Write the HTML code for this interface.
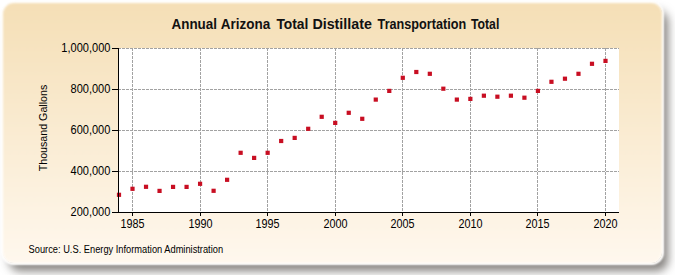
<!DOCTYPE html>
<html><head><meta charset="utf-8"><style>
html,body{margin:0;padding:0;background:#fff;width:675px;height:275px;overflow:hidden;position:relative}
.box{position:absolute;left:2.5px;top:2.5px;width:659.5px;height:260px;border-radius:11px;box-sizing:border-box}
.sh{box-shadow:6px 8px 10px rgba(50,45,40,0.6)}
.ring{box-shadow:0 0 2px 1.5px #fff}
.panel{background:linear-gradient(to bottom,#f5dfb6,#fff8ee);filter:blur(0.9px)}
svg{position:absolute;left:0;top:0}
text{font-family:"Liberation Sans",sans-serif;fill:#000}
.title{font-weight:bold;fill:#111}
</style></head><body>
<div class="box sh"></div><div class="box ring"></div><div class="box panel"></div>
<svg width="675" height="275" viewBox="0 0 675 275">
<rect x="118" y="48" width="501" height="164" fill="#fff"/>
<line x1="118" y1="48.5" x2="619" y2="48.5" stroke="#a2a2a2" stroke-dasharray="3,1"/>
<line x1="118" y1="89.5" x2="619" y2="89.5" stroke="#a2a2a2" stroke-dasharray="3,1"/>
<line x1="118" y1="130.5" x2="619" y2="130.5" stroke="#a2a2a2" stroke-dasharray="3,1"/>
<line x1="118" y1="171.5" x2="619" y2="171.5" stroke="#a2a2a2" stroke-dasharray="3,1"/>
<line x1="132.5" y1="48" x2="132.5" y2="212" stroke="#a2a2a2" stroke-dasharray="3,1"/>
<line x1="200.5" y1="48" x2="200.5" y2="212" stroke="#a2a2a2" stroke-dasharray="3,1"/>
<line x1="267.5" y1="48" x2="267.5" y2="212" stroke="#a2a2a2" stroke-dasharray="3,1"/>
<line x1="335.5" y1="48" x2="335.5" y2="212" stroke="#a2a2a2" stroke-dasharray="3,1"/>
<line x1="402.5" y1="48" x2="402.5" y2="212" stroke="#a2a2a2" stroke-dasharray="3,1"/>
<line x1="470.5" y1="48" x2="470.5" y2="212" stroke="#a2a2a2" stroke-dasharray="3,1"/>
<line x1="537.5" y1="48" x2="537.5" y2="212" stroke="#a2a2a2" stroke-dasharray="3,1"/>
<line x1="605.5" y1="48" x2="605.5" y2="212" stroke="#a2a2a2" stroke-dasharray="3,1"/>
<rect x="116.90" y="192.70" width="4.2" height="4.2" fill="#c80e22"/>
<rect x="130.41" y="186.70" width="4.2" height="4.2" fill="#c80e22"/>
<rect x="143.93" y="184.70" width="4.2" height="4.2" fill="#c80e22"/>
<rect x="157.44" y="188.80" width="4.2" height="4.2" fill="#c80e22"/>
<rect x="170.96" y="184.80" width="4.2" height="4.2" fill="#c80e22"/>
<rect x="184.47" y="184.80" width="4.2" height="4.2" fill="#c80e22"/>
<rect x="197.98" y="181.70" width="4.2" height="4.2" fill="#c80e22"/>
<rect x="211.50" y="188.70" width="4.2" height="4.2" fill="#c80e22"/>
<rect x="225.01" y="177.70" width="4.2" height="4.2" fill="#c80e22"/>
<rect x="238.53" y="150.70" width="4.2" height="4.2" fill="#c80e22"/>
<rect x="252.04" y="155.80" width="4.2" height="4.2" fill="#c80e22"/>
<rect x="265.55" y="150.70" width="4.2" height="4.2" fill="#c80e22"/>
<rect x="279.07" y="138.90" width="4.2" height="4.2" fill="#c80e22"/>
<rect x="292.58" y="135.80" width="4.2" height="4.2" fill="#c80e22"/>
<rect x="306.10" y="126.70" width="4.2" height="4.2" fill="#c80e22"/>
<rect x="319.61" y="114.70" width="4.2" height="4.2" fill="#c80e22"/>
<rect x="333.12" y="120.80" width="4.2" height="4.2" fill="#c80e22"/>
<rect x="346.64" y="110.70" width="4.2" height="4.2" fill="#c80e22"/>
<rect x="360.15" y="116.70" width="4.2" height="4.2" fill="#c80e22"/>
<rect x="373.67" y="97.50" width="4.2" height="4.2" fill="#c80e22"/>
<rect x="387.18" y="88.80" width="4.2" height="4.2" fill="#c80e22"/>
<rect x="400.69" y="75.70" width="4.2" height="4.2" fill="#c80e22"/>
<rect x="414.21" y="69.90" width="4.2" height="4.2" fill="#c80e22"/>
<rect x="427.72" y="71.70" width="4.2" height="4.2" fill="#c80e22"/>
<rect x="441.24" y="86.60" width="4.2" height="4.2" fill="#c80e22"/>
<rect x="454.75" y="97.50" width="4.2" height="4.2" fill="#c80e22"/>
<rect x="468.26" y="96.80" width="4.2" height="4.2" fill="#c80e22"/>
<rect x="481.78" y="93.60" width="4.2" height="4.2" fill="#c80e22"/>
<rect x="495.29" y="94.60" width="4.2" height="4.2" fill="#c80e22"/>
<rect x="508.81" y="93.60" width="4.2" height="4.2" fill="#c80e22"/>
<rect x="522.32" y="95.60" width="4.2" height="4.2" fill="#c80e22"/>
<rect x="535.83" y="88.80" width="4.2" height="4.2" fill="#c80e22"/>
<rect x="549.35" y="79.70" width="4.2" height="4.2" fill="#c80e22"/>
<rect x="562.86" y="76.60" width="4.2" height="4.2" fill="#c80e22"/>
<rect x="576.38" y="71.70" width="4.2" height="4.2" fill="#c80e22"/>
<rect x="589.89" y="61.70" width="4.2" height="4.2" fill="#c80e22"/>
<rect x="603.40" y="58.80" width="4.2" height="4.2" fill="#c80e22"/>
<rect x="118" y="48" width="1" height="165" fill="#000"/>
<rect x="112" y="212" width="507" height="1" fill="#000"/>
<rect x="112" y="48" width="6" height="1" fill="#000"/>
<text transform="translate(110.4,51.7) scale(0.92,1)" text-anchor="end" class="t" style="font-size:12px">1,000,000</text>
<rect x="112" y="89" width="6" height="1" fill="#000"/>
<text transform="translate(110.4,92.7) scale(0.92,1)" text-anchor="end" class="t" style="font-size:12px">800,000</text>
<rect x="112" y="130" width="6" height="1" fill="#000"/>
<text transform="translate(110.4,133.7) scale(0.92,1)" text-anchor="end" class="t" style="font-size:12px">600,000</text>
<rect x="112" y="171" width="6" height="1" fill="#000"/>
<text transform="translate(110.4,174.7) scale(0.92,1)" text-anchor="end" class="t" style="font-size:12px">400,000</text>
<rect x="112" y="212" width="6" height="1" fill="#000"/>
<text transform="translate(110.4,215.7) scale(0.92,1)" text-anchor="end" class="t" style="font-size:12px">200,000</text>
<rect x="132" y="212" width="1" height="4" fill="#000"/>
<text transform="translate(132.5,227.8) scale(0.9,1)" text-anchor="middle" class="t" style="font-size:12px">1985</text>
<rect x="200" y="212" width="1" height="4" fill="#000"/>
<text transform="translate(200.5,227.8) scale(0.9,1)" text-anchor="middle" class="t" style="font-size:12px">1990</text>
<rect x="267" y="212" width="1" height="4" fill="#000"/>
<text transform="translate(267.5,227.8) scale(0.9,1)" text-anchor="middle" class="t" style="font-size:12px">1995</text>
<rect x="335" y="212" width="1" height="4" fill="#000"/>
<text transform="translate(335.5,227.8) scale(0.9,1)" text-anchor="middle" class="t" style="font-size:12px">2000</text>
<rect x="402" y="212" width="1" height="4" fill="#000"/>
<text transform="translate(402.5,227.8) scale(0.9,1)" text-anchor="middle" class="t" style="font-size:12px">2005</text>
<rect x="470" y="212" width="1" height="4" fill="#000"/>
<text transform="translate(470.5,227.8) scale(0.9,1)" text-anchor="middle" class="t" style="font-size:12px">2010</text>
<rect x="537" y="212" width="1" height="4" fill="#000"/>
<text transform="translate(537.5,227.8) scale(0.9,1)" text-anchor="middle" class="t" style="font-size:12px">2015</text>
<rect x="605" y="212" width="1" height="4" fill="#000"/>
<text transform="translate(605.5,227.8) scale(0.9,1)" text-anchor="middle" class="t" style="font-size:12px">2020</text>
<text x="171.5" y="28.9" textLength="45.5" lengthAdjust="spacingAndGlyphs" class="title" style="font-size:14.2px">Annual</text>
<text x="220.8" y="28.9" textLength="49.5" lengthAdjust="spacingAndGlyphs" class="title" style="font-size:14.2px">Arizona</text>
<text x="276.4" y="28.9" textLength="32.0" lengthAdjust="spacingAndGlyphs" class="title" style="font-size:14.2px">Total</text>
<text x="312.4" y="28.9" textLength="59.5" lengthAdjust="spacingAndGlyphs" class="title" style="font-size:14.2px">Distillate</text>
<text x="377.6" y="28.9" textLength="88.6" lengthAdjust="spacingAndGlyphs" class="title" style="font-size:14.2px">Transportation</text>
<text x="471.0" y="28.9" textLength="28.3" lengthAdjust="spacingAndGlyphs" class="title" style="font-size:14.2px">Total</text>
<text x="28.6" y="252.9" textLength="194.5" lengthAdjust="spacingAndGlyphs" class="src" style="font-size:10px">Source: U.S. Energy Information Administration</text>
<text transform="translate(47.4,128) rotate(-90)" x="-43.25" y="0" textLength="86.5" lengthAdjust="spacingAndGlyphs" class="yt" style="font-size:11.2px">Thousand Gallons</text>
</svg>
</body></html>
